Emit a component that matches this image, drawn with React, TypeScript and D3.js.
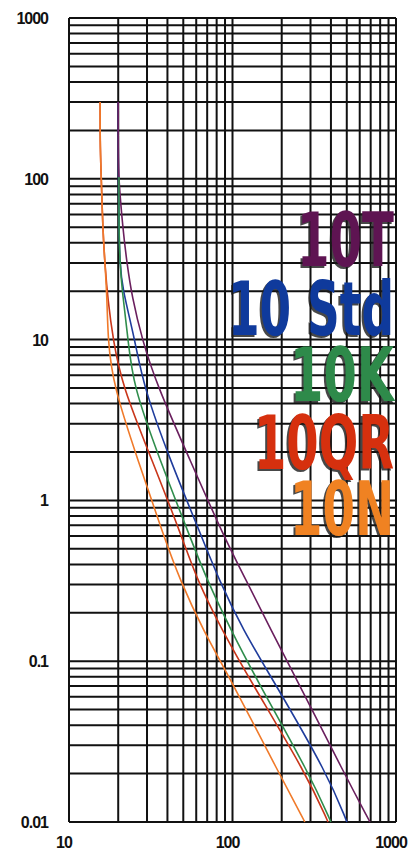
import React from "react";
import * as d3 from "d3";

// Data (current in A, time in s)
const xTicks = [10, 100, 1000];
const xTickLabels = ["10", "100", "1000"];
const yTicks = [1000, 100, 10, 1, 0.1, 0.01];
const yTickLabels = ["1000", "100", "10", "1", "0.1", "0.01"];

const series10T: [number, number][] = [
  [20, 300], [20, 300], [20, 150], [20.1, 100], [21.4, 48], [22.6, 30], [24.3, 18.4], [28, 10], [34.5, 5.2],
  [55, 1.78], [88.7, 0.592], [121, 0.32], [172, 0.156], [248, 0.0764], [488, 0.0196], [693, 0.01], [693, 0.01],
];
const series10Std: [number, number][] = [
  [20, 300], [20, 300], [20, 150], [20.1, 100], [20.2, 48], [20.5, 30], [21.1, 21.2], [25.3, 10], [28.4, 5.2],
  [41.5, 1.78], [64.2, 0.609], [82.7, 0.32], [116, 0.156], [176.9, 0.0764], [384, 0.0196], [501, 0.01], [501, 0.01],
];
const series10K: [number, number][] = [
  [20.2, 102.6], [20.2, 48], [20.5, 30], [21.1, 20.35], [23, 10], [24.6, 5.2],
  [36, 1.78], [55, 0.592], [69.8, 0.32], [97.9, 0.156], [141, 0.0764], [298, 0.0196], [400, 0.01], [400, 0.01],
];
const series10QR: [number, number][] = [
  [15.5, 300], [15.5, 300], [15.5, 167], [15.7, 113], [16.1, 48], [16.6, 29], [17.3, 17.6], [18.6, 10],
  [21.1, 5.2], [32.2, 1.78], [49.1, 0.592], [60.7, 0.32], [86.3, 0.156], [128, 0.0764], [285, 0.0196], [384, 0.01], [384, 0.01],
];
const series10N: [number, number][] = [
  [15.5, 300], [15.5, 300], [15.5, 167], [15.7, 113], [16.1, 48], [16.6, 30], [17.1, 17.6], [17.3, 10],
  [18.6, 5.2], [26.4, 1.78], [38.1, 0.592], [47.7, 0.32], [66, 0.156], [97.9, 0.0764], [195, 0.0196], [277, 0.01], [277, 0.01],
];

const seriesNames = ["10T", "10 Std", "10K", "10QR", "10N"];

const W = 413;
const H = 859;
const L = 69, R = 396, T = 18, B = 822;

export default function App() {
  const x = d3.scaleLog().domain([10, 1000]).range([L, R]);
  const y = d3.scaleLog().domain([0.01, 1000]).range([B, T]);

  const xGrid: number[] = [];
  for (let d = 10; d < 1000; d *= 10) for (let k = 1; k <= 9; k++) xGrid.push(k * d);
  xGrid.push(1000);
  const yGrid: number[] = [];
  for (let d = 0.01; d < 999; d *= 10) for (let k = 1; k <= 9; k++) yGrid.push(+(k * d).toPrecision(3));
  yGrid.push(1000);

  const line = d3
    .line<[number, number]>()
    .x((d) => x(d[0]))
    .y((d) => y(d[1]))
    .curve(d3.curveBasis);

  const curves = [
    { data: series10Std, color: "#1f3c9c" },
    { data: series10T, color: "#6a1f5e" },
    { data: series10K, color: "#2f8d4c" },
    { data: series10QR, color: "#c9361a" },
    { data: series10N, color: "#f07a2a" },
  ];

  const labels = [
    { text: seriesNames[0], x: 297, y: 266, w: 97, color: "#5e1452" },
    { text: seriesNames[1], x: 228, y: 335, w: 166, color: "#0f3a9c" },
    { text: seriesNames[2], x: 290, y: 401, w: 104, color: "#2e8a4a" },
    { text: seriesNames[3], x: 254, y: 469, w: 140, color: "#d6300e" },
    { text: seriesNames[4], x: 290, y: 535, w: 104, color: "#f08222" },
  ];

  const labelFont = "'Liberation Sans Narrow','DejaVu Sans Condensed','Liberation Sans',sans-serif";
  const axisFont = "'Liberation Sans', Arial, sans-serif";

  return (
    <svg
      width={W}
      height={H}
      style={{ position: "absolute", left: 0, top: 0, background: "#fff" }}
    >
      <rect x={0} y={0} width={W} height={H} fill="#fff" />
      <g stroke="#111" strokeWidth={2} fill="none">
        {xGrid.map((v, i) => (
          <line key={"x" + i} x1={x(v)} x2={x(v)} y1={T} y2={B} />
        ))}
        {yGrid.map((v, i) => (
          <line key={"y" + i} x1={L} x2={R} y1={y(v)} y2={y(v)} />
        ))}
      </g>
      {curves.map((c, i) => (
        <path key={i} d={line(c.data) || ""} fill="none" stroke={c.color} strokeWidth={1.6} />
      ))}
      {labels.map((l, i) => (
        <g key={i} fontFamily={labelFont} fontWeight="bold" fontSize={74}>
          <text x={l.x - 2} y={l.y + 2} textLength={l.w} lengthAdjust="spacingAndGlyphs" fill="#1a1a1a" opacity={0.8}>
            {l.text}
          </text>
          <text x={l.x} y={l.y} textLength={l.w} lengthAdjust="spacingAndGlyphs" fill={l.color}>
            {l.text}
          </text>
        </g>
      ))}
      <g fontFamily={axisFont} fontWeight="bold" fontSize={16} fill="#111" letterSpacing={-1}>
        {yTicks.map((v, i) => (
          <text key={"yl" + i} x={48} y={y(v) + 6} textAnchor="end">
            {yTickLabels[i]}
          </text>
        ))}
        {xTicks.map((v, i) => (
          <text key={"xl" + i} x={x(v) - 5} y={848} textAnchor="middle">
            {xTickLabels[i]}
          </text>
        ))}
      </g>
    </svg>
  );
}
